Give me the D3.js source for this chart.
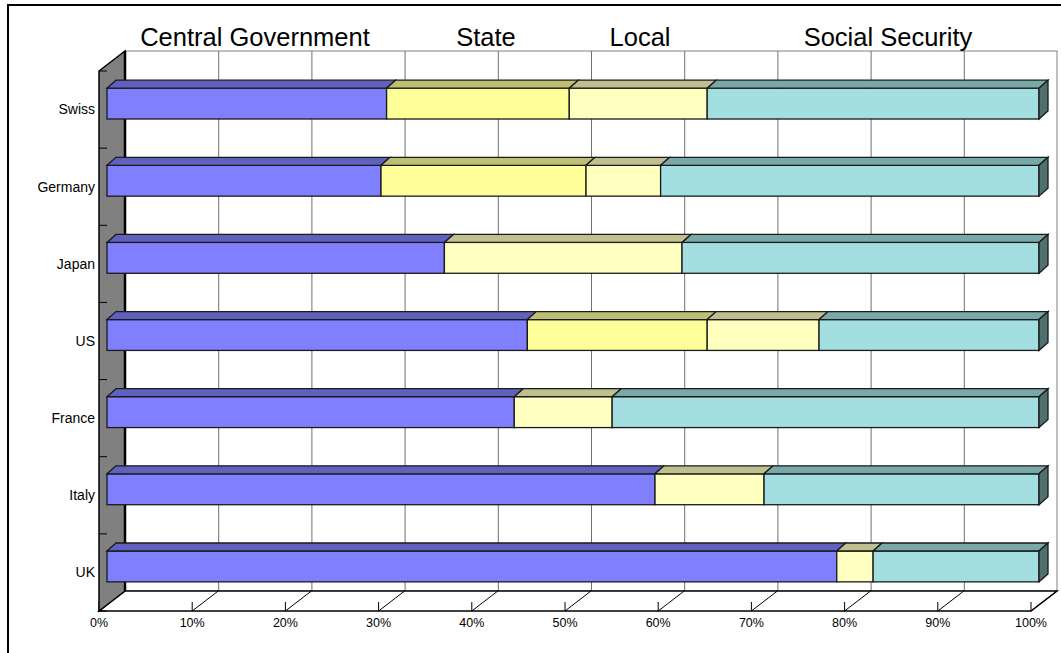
<!DOCTYPE html>
<html>
<head>
<meta charset="utf-8">
<script src="https://cdn.jsdelivr.net/npm/d3@7"></script>
<style>
body{margin:0;background:#fff}
text{font-family:Arial,"Liberation Sans",sans-serif;fill:#000}
</style>
</head>
<body>
<svg id="chart" width="1061" height="653"></svg>
<script>
// shares of each level of government, percent
var countries = ["Swiss","Germany","Japan","US","France","Italy","UK"]
var central = [30.0,29.4,36.2,45.1,43.7,58.8,78.3]
var state   = [19.6,22.0,0,19.3,0,0,0]
var local   = [14.8,8.0,25.5,12.0,10.5,11.7,3.9]
var social  = [35.6,40.6,38.3,23.6,45.8,29.5,17.8]
var seriesNames = ["Central Government","State","Local","Social Security"]
var tickValues = [0,0.1,0.2,0.3,0.4,0.5,0.6,0.7,0.8,0.9,1]
var tickLabels = ["0%","10%","20%","30%","40%","50%","60%","70%","80%","90%","100%"]

var frontColors = ["#8080ff","#ffff99","#ffffc0","#a3dfe0"]
var topColors   = ["#6060bf","#bfbf73","#bfbf90","#78a8a8"]
var sideColors  = ["#404080","#808050","#808060","#507070"]

var svg = d3.select("#chart")

// 3d offsets
var depthX = 26, depthY = -20     // wall depth
var barOffX = 8, barOffY = -6     // bar front plane
var barDX = 9, barDY = -8         // bar thickness

var plotTop = 71, plotBot = 611
var x = d3.scaleLinear().domain([0,1]).range([99,1031])
var y = d3.scaleBand().domain(countries).range([plotTop,plotBot]).paddingInner(0.6).paddingOuter(0.3)
var yAxis = d3.scaleBand().domain(countries).range([plotTop,plotBot])

var rows = countries.map((c,i)=>({country:c,
  "Central Government":central[i],"State":state[i],"Local":local[i],"Social Security":social[i]}))
var stacked = d3.stack().keys(seriesNames).offset(d3.stackOffsetExpand)(rows)

// outer frame
svg.append("rect")
   .attr("x",8).attr("y",5).attr("width",1100).attr("height",700)
   .attr("fill","none").attr("stroke","#000").attr("stroke-width",2)

var x0 = x(0), x1 = x(1)

// back wall
svg.append("rect")
   .attr("x",x0+depthX).attr("y",plotTop+depthY)
   .attr("width",x1-x0).attr("height",plotBot-plotTop)
   .attr("fill","#fff").attr("stroke","#808080").attr("stroke-width",1)

svg.append("g").selectAll("line")
   .data(tickValues.slice(1,-1))
   .enter().append("line")
   .attr("x1",d=>x(d)+depthX+0.5).attr("x2",d=>x(d)+depthX+0.5)
   .attr("y1",plotTop+depthY).attr("y2",plotBot+depthY)
   .attr("stroke","#707070").attr("stroke-width",1)

// floor
svg.append("path")
   .attr("d",`M${x0},${plotBot}L${x0+depthX},${plotBot+depthY}L${x1+depthX},${plotBot+depthY}L${x1},${plotBot}Z`)
   .attr("fill","#fff").attr("stroke","#000").attr("stroke-width",1.5)

svg.append("g").selectAll("line")
   .data(tickValues)
   .enter().append("line")
   .attr("x1",d=>x(d)).attr("y1",plotBot)
   .attr("x2",d=>x(d)+depthX).attr("y2",plotBot+depthY)
   .attr("stroke","#000").attr("stroke-width",1)

svg.append("g").selectAll("line")
   .data(tickValues)
   .enter().append("line")
   .attr("x1",d=>x(d)).attr("x2",d=>x(d))
   .attr("y1",plotBot).attr("y2",plotBot-9)
   .attr("stroke","#000").attr("stroke-width",1)

// side wall
svg.append("path")
   .attr("d",`M${x0},${plotTop}L${x0+depthX},${plotTop+depthY}L${x0+depthX},${plotBot+depthY}L${x0},${plotBot}Z`)
   .attr("fill","#808080").attr("stroke","#000").attr("stroke-width",1.5)
svg.append("line")
   .attr("x1",x0+depthX).attr("x2",x0+depthX)
   .attr("y1",plotTop+depthY).attr("y2",plotBot+depthY)
   .attr("stroke","#000").attr("stroke-width",2.5)

var catTicks = countries.map(c=>yAxis(c)).concat([plotBot])
svg.append("g").selectAll("line")
   .data(catTicks)
   .enter().append("line")
   .attr("x1",x0).attr("x2",x0+8)
   .attr("y1",d=>d).attr("y2",d=>d)
   .attr("stroke","#000").attr("stroke-width",1)

// bars
var bars = svg.append("g")
stacked.forEach((s,si)=>{
  var segs = s.filter(d=>d[1]-d[0]>0)
  var g = bars.append("g")
  g.selectAll(".front").data(segs).enter().append("rect")
   .classed("front",true)
   .attr("x",d=>x(d[0])+barOffX)
   .attr("y",d=>y(d.data.country)+barOffY)
   .attr("width",d=>x(d[1])-x(d[0]))
   .attr("height",y.bandwidth())
   .attr("fill",frontColors[si])
   .attr("stroke","#1a1a1a").attr("stroke-width",1.3)
  g.selectAll(".top").data(segs).enter().append("path")
   .classed("top",true)
   .attr("d",d=>{
     var a = x(d[0])+barOffX, b = x(d[1])+barOffX, t = y(d.data.country)+barOffY
     return `M${a},${t}L${a+barDX},${t+barDY}L${b+barDX},${t+barDY}L${b},${t}Z`
   })
   .attr("fill",topColors[si])
   .attr("stroke","#1a1a1a").attr("stroke-width",1.3)
  if(si===stacked.length-1){
    g.selectAll(".side").data(segs).enter().append("path")
     .classed("side",true)
     .attr("d",d=>{
       var b = x(d[1])+barOffX, t = y(d.data.country)+barOffY, h = y.bandwidth()
       return `M${b},${t}L${b+barDX},${t+barDY}L${b+barDX},${t+h+barDY}L${b},${t+h}Z`
     })
     .attr("fill",sideColors[si])
     .attr("stroke","#1a1a1a").attr("stroke-width",1.3)
  }
})

// category labels
svg.append("g").selectAll("text")
   .data(countries)
   .enter().append("text")
   .attr("x",95)
   .attr("y",d=>yAxis(d)+yAxis.bandwidth()/2)
   .attr("dy","0.35em")
   .attr("text-anchor","end")
   .attr("font-size","14px")
   .text(d=>d)

// percent labels
svg.append("g").selectAll("text")
   .data(tickValues)
   .enter().append("text")
   .attr("x",d=>x(d))
   .attr("y",627)
   .attr("text-anchor","middle")
   .attr("font-size","12.5px")
   .text((d,i)=>tickLabels[i])

// legend (text only)
var legendX = [255,486,640,888]
svg.append("g").selectAll("text")
   .data(seriesNames)
   .enter().append("text")
   .attr("x",(d,i)=>legendX[i])
   .attr("y",46)
   .attr("text-anchor","middle")
   .attr("font-size","25.5px")
   .text(d=>d)
</script>
</body>
</html>
